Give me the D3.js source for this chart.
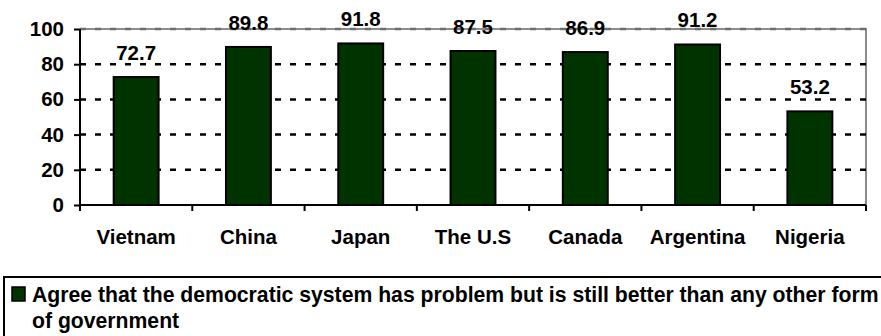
<!DOCTYPE html>
<html>
<head>
<meta charset="utf-8">
<script src="https://cdn.jsdelivr.net/npm/d3@7"></script>
<style>
  html, body { margin: 0; padding: 0; background: #fff; }
  svg text { font-family: "Liberation Sans", Arial, sans-serif; font-weight: bold; fill: #000; }
</style>
</head>
<body>
<svg id="chart" width="881" height="336"></svg>
<script>
// Share of respondents agreeing that democracy, despite its problems, beats other forms of government
const countries = ["Vietnam", "China", "Japan", "The U.S", "Canada", "Argentina", "Nigeria"];
const agreeValues = [72.7, 89.8, 91.8, 87.5, 86.9, 91.2, 53.2];
const yTicks = [0, 20, 40, 60, 80, 100];
const legendLines = [
  "Agree that the democratic system has problem but is still better than any other form",
  "of government"
];

const svg = d3.select("#chart");
const plot = { left: 80, right: 866, top: 29, bottom: 205 };
const barColor = "#003300";

const x = d3.scaleBand()
  .domain(countries)
  .range([plot.left, plot.right])
  .paddingInner(0.6)
  .paddingOuter(0.3);
const step = x.step();

const y = d3.scaleLinear().domain([0, 100]).range([plot.bottom, plot.top]);

// plot area frame (top and right, grey)
svg.append("path")
  .attr("d", `M${plot.left},${y(100)}H${plot.right}V${plot.bottom}`)
  .attr("fill", "none")
  .attr("stroke", "#8c8c8c")
  .attr("stroke-width", 2);

// dashed gridlines
svg.append("g").selectAll("line")
  .data(yTicks.filter(t => t > 0))
  .join("line")
  .attr("x1", plot.left)
  .attr("x2", plot.right)
  .attr("y1", d => y(d))
  .attr("y2", d => y(d))
  .attr("stroke", d => d === 100 ? "#6e6e6e" : "#000")
  .attr("stroke-width", 2.5)
  .attr("stroke-dasharray", "6 9");

// bars
svg.append("g").selectAll("rect")
  .data(countries.map((c, i) => ({ c, v: agreeValues[i] })))
  .join("rect")
  .attr("x", d => x(d.c))
  .attr("width", x.bandwidth())
  .attr("y", d => y(d.v))
  .attr("height", d => y(0) - y(d.v))
  .attr("fill", barColor)
  .attr("stroke", "#000")
  .attr("stroke-width", 2);

// value labels
svg.append("g").selectAll("text")
  .data(countries.map((c, i) => ({ c, v: agreeValues[i] })))
  .join("text")
  .attr("x", d => x(d.c) + x.bandwidth() / 2)
  .attr("y", d => y(d.v) - 17)
  .attr("text-anchor", "middle")
  .attr("font-size", 20.5)
  .text(d => d.v.toFixed(1));

// y axis
const yAxis = svg.append("g")
  .attr("transform", `translate(${plot.left},0)`)
  .call(d3.axisLeft(y).tickValues(yTicks).tickSize(6).tickPadding(10).tickFormat(d3.format("d")));
yAxis.select(".domain").attr("stroke", "#000").attr("stroke-width", 2).attr("d", `M0,${y(100)}V${y(0)}`);
yAxis.selectAll(".tick line").attr("stroke", "#000").attr("stroke-width", 2);
yAxis.selectAll(".tick text")
  .attr("font-size", 20.5)
  .attr("font-family", "Liberation Sans, Arial, sans-serif")
  .attr("font-weight", "bold")
  .attr("fill", "#000");

// x axis: ticks at category boundaries, labels centred under each bar
const xAxisG = svg.append("g").attr("transform", `translate(0,${plot.bottom})`);
xAxisG.append("line")
  .attr("x1", plot.left).attr("x2", plot.right)
  .attr("stroke", "#000").attr("stroke-width", 2);
const boundaries = countries.map(c => x(c) - step * 0.3).concat([plot.right]);
xAxisG.selectAll("line.tick")
  .data(boundaries)
  .join("line")
  .attr("class", "tick")
  .attr("x1", d => d).attr("x2", d => d)
  .attr("y1", 0).attr("y2", 6)
  .attr("stroke", "#000").attr("stroke-width", 2);
xAxisG.selectAll("text")
  .data(countries)
  .join("text")
  .attr("x", d => x(d) + x.bandwidth() / 2)
  .attr("y", 39)
  .attr("text-anchor", "middle")
  .attr("font-size", 20.5)
  .text(d => d);

// legend
const legend = svg.append("g");
legend.append("rect")
  .attr("x", 4).attr("y", 277)
  .attr("width", 890).attr("height", 80)
  .attr("fill", "none")
  .attr("stroke", "#000")
  .attr("stroke-width", 2);
legend.append("rect")
  .attr("x", 12).attr("y", 287)
  .attr("width", 13).attr("height", 14)
  .attr("fill", barColor)
  .attr("stroke", "#000")
  .attr("stroke-width", 1.5);
legend.selectAll("text.legend-line")
  .data(legendLines)
  .join("text")
  .attr("class", "legend-line")
  .attr("x", 32)
  .attr("y", (d, i) => 302 + i * 26)
  .attr("font-size", 21.2)
  .text(d => d);
</script>
</body>
</html>
